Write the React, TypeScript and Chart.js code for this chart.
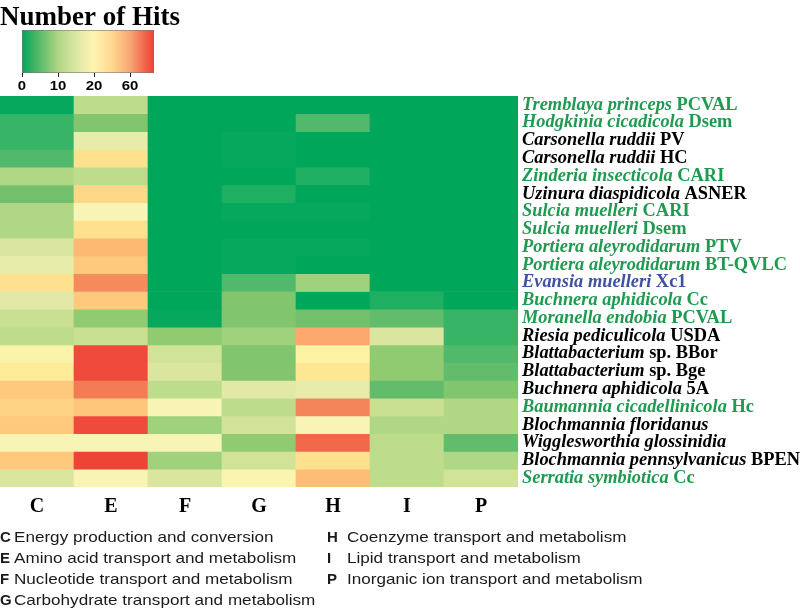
import React, { useEffect, useRef } from "react";
import { Chart, registerables } from "chart.js";

Chart.register(...registerables);

const categories = ["C", "E", "F", "G", "H", "I", "P"];

const speciesNames = [
  "Tremblaya princeps", "Hodgkinia cicadicola", "Carsonella ruddii", "Carsonella ruddii",
  "Zinderia insecticola", "Uzinura diaspidicola", "Sulcia muelleri", "Sulcia muelleri",
  "Portiera aleyrodidarum", "Portiera aleyrodidarum", "Evansia muelleri", "Buchnera aphidicola",
  "Moranella endobia", "Riesia pediculicola", "Blattabacterium", "Blattabacterium",
  "Buchnera aphidicola", "Baumannia cicadellinicola", "Blochmannia floridanus",
  "Wigglesworthia glossinidia", "Blochmannia pennsylvanicus", "Serratia symbiotica",
];
const strainNames = [
  "PCVAL", "Dsem", "PV", "HC", "CARI", "ASNER", "CARI", "Dsem", "PTV", "BT-QVLC", "Xc1", "Cc",
  "PCVAL", "USDA", "sp. BBor", "sp. Bge", "5A", "Hc", "", "", "BPEN", "Cc",
];
const labelColors = [
  "#1f9a50", "#1f9a50", "#000000", "#000000", "#1f9a50", "#000000", "#1f9a50", "#1f9a50",
  "#1f9a50", "#1f9a50", "#3f51a3", "#1f9a50", "#1f9a50", "#000000", "#000000", "#000000",
  "#000000", "#1f9a50", "#000000", "#000000", "#000000", "#1f9a50",
];

const hitsC = [1, 3, 3, 4, 10, 6, 10, 10, 14, 16, 27, 15, 12, 11, 21, 24, 37, 32, 37, 19, 37, 14];
const hitsE = [11, 7, 16, 27, 11, 30, 19, 27, 44, 37, 60, 37, 8, 12, 75, 75, 64, 38, 75, 19, 78, 19];
const hitsF = [0, 0, 0, 0, 0, 0, 0, 0, 0, 0, 0, 0, 1, 8, 13, 14, 11, 19, 9, 19, 9, 14];
const hitsG = [0, 0, 1, 1, 0, 2, 1, 0, 1, 1, 4, 7, 7, 9, 7, 7, 15, 11, 13, 8, 13, 20];
const hitsH = [0, 4, 0, 0, 2, 0, 1, 0, 1, 0, 9, 0, 6, 50, 22, 25, 16, 62, 19, 68, 27, 42];
const hitsI = [0, 0, 0, 0, 0, 0, 0, 0, 0, 0, 0, 2, 5, 14, 8, 8, 5, 12, 10, 11, 11, 11];
const hitsP = [0, 0, 0, 0, 0, 0, 0, 0, 0, 0, 0, 0, 3, 3, 4, 5, 7, 10, 10, 5, 10, 13];

const legendTicks = ["0", "10", "20", "60"];
const cogLetters = ["C", "E", "F", "G", "H", "I", "P"];
const cogDescriptions = [
  "Energy production and conversion",
  "Amino acid transport and metabolism",
  "Nucleotide transport and metabolism",
  "Carbohydrate transport and metabolism",
  "Coenzyme transport and metabolism",
  "Lipid transport and metabolism",
  "Inorganic ion transport and metabolism",
];

const colorStops: [number, string][] = [
  [0, "#00a65a"], [1, "#06a85d"], [2, "#1eaf62"], [4, "#52b86b"], [6, "#72c06b"],
  [8, "#90cb72"], [10, "#b0d785"], [12, "#c9e093"], [15, "#e2e9a6"], [19, "#f7f4b6"],
  [22, "#fef3a5"], [25, "#fee793"], [30, "#fed888"], [37, "#fec87d"], [44, "#fdb872"],
  [50, "#fca86c"], [62, "#f4845a"], [68, "#f0694b"], [75, "#ef4a3b"], [80, "#ee4036"],
];

function hexToRgb(h: string) {
  return [parseInt(h.slice(1, 3), 16), parseInt(h.slice(3, 5), 16), parseInt(h.slice(5, 7), 16)];
}
function colorFor(v: number) {
  for (let i = 0; i < colorStops.length - 1; i++) {
    const [v0, c0] = colorStops[i];
    const [v1, c1] = colorStops[i + 1];
    if (v <= v1) {
      const t = Math.max(0, (v - v0) / (v1 - v0));
      const a = hexToRgb(c0), b = hexToRgb(c1);
      const m = a.map((x, k) => Math.round(x + (b[k] - x) * t));
      return `rgb(${m[0]},${m[1]},${m[2]})`;
    }
  }
  return colorStops[colorStops.length - 1][1];
}

const columns = [hitsC, hitsE, hitsF, hitsG, hitsH, hitsI, hitsP];

function drawScaled(ctx: CanvasRenderingContext2D, text: string, x: number, y: number, font: string, sx: number) {
  ctx.save();
  ctx.translate(x, y);
  ctx.scale(sx, 1);
  ctx.font = font;
  ctx.fillText(text, 0, 0);
  ctx.restore();
}

const overlayPlugin = {
  id: "overlay",
  afterDraw(chart: any) {
    const ctx = chart.ctx as CanvasRenderingContext2D;
    const yScale = chart.scales.y;
    const area = chart.chartArea;
    ctx.save();
    // title
    ctx.fillStyle = "#000";
    ctx.font = 'bold 27px "Liberation Serif"';
    ctx.textBaseline = "alphabetic";
    ctx.textAlign = "left";
    ctx.fillText("Number of Hits", 0, 25);
    // colour bar
    const bx = 22, by = 30, bw = 132, bh = 43;
    const g = ctx.createLinearGradient(bx, 0, bx + bw, 0);
    g.addColorStop(0, "#00a65a");
    g.addColorStop(0.12, "#4fb867");
    g.addColorStop(0.27, "#afd583");
    g.addColorStop(0.4, "#d8e6a3");
    g.addColorStop(0.545, "#fff5b0");
    g.addColorStop(0.68, "#fed890");
    g.addColorStop(0.82, "#f7a674");
    g.addColorStop(0.95, "#f05a44");
    g.addColorStop(1, "#ee4036");
    ctx.fillStyle = g;
    ctx.fillRect(bx, by, bw, bh);
    ctx.strokeStyle = "rgba(120,120,120,0.6)";
    ctx.lineWidth = 1;
    ctx.strokeRect(bx + 0.5, by + 0.5, bw - 1, bh - 1);
    ctx.strokeStyle = "#222";
    ctx.beginPath();
    legendTicks.forEach((t, i) => {
      const x = bx + i * 36 + 0.5;
      ctx.moveTo(x, by + bh);
      ctx.lineTo(x, by + bh + 4);
    });
    ctx.stroke();
    ctx.fillStyle = "#000";
    ctx.textAlign = "center";
    ctx.textBaseline = "middle";
    legendTicks.forEach((t, i) => drawScaled(ctx, t, bx + i * 36, 86, 'bold 13px "Liberation Sans"', 1.15));
    // species labels
    ctx.textAlign = "left";
    ctx.textBaseline = "middle";
    speciesNames.forEach((name, r) => {
      const y = yScale.getPixelForValue(r + 0.5);
      let x = area.right + 4;
      ctx.fillStyle = labelColors[r];
      ctx.font = 'italic bold 18.4px "Liberation Serif"';
      ctx.fillText(name, x, y);
      x += ctx.measureText(name + " ").width;
      if (strainNames[r]) {
        ctx.font = 'bold 18.4px "Liberation Serif"';
        ctx.fillText(strainNames[r], x, y);
      }
    });
    // COG legend
    ctx.fillStyle = "#1a1a1a";
    ctx.textBaseline = "middle";
    ctx.textAlign = "left";
    const rowsY = [538, 559, 580, 601];
    cogLetters.forEach((letter, i) => {
      const col = i < 4 ? 0 : 1;
      const row = i < 4 ? i : i - 4;
      const lx = col === 0 ? 0 : 327;
      const dx = col === 0 ? 14 : 347;
      const y = rowsY[row];
      drawScaled(ctx, letter, lx, y, 'bold 15px "Liberation Sans"', 1);
      drawScaled(ctx, cogDescriptions[i], dx, y, '15px "Liberation Sans"', 1.14);
    });
    ctx.restore();
  },
};

export default function App() {
  const ref = useRef<HTMLCanvasElement>(null);
  useEffect(() => {
    if (!ref.current) return;
    const datasets = speciesNames.map((name, r) => ({
      label: name + " " + strainNames[r],
      data: categories.map(() => [r, r + 1]),
      backgroundColor: categories.map((_, c) => colorFor(columns[c][r])),
      borderWidth: 0,
      grouped: false,
      barPercentage: 1,
      categoryPercentage: 1,
    }));
    const chart = new Chart(ref.current, {
      type: "bar",
      data: { labels: categories, datasets: datasets as any },
      options: {
        animation: false,
        responsive: false,
        devicePixelRatio: 1,
        layout: { padding: { left: 0, right: 282, top: 96, bottom: 83 } },
        plugins: { legend: { display: false }, tooltip: { enabled: false }, title: { display: false } },
        scales: {
          x: {
            grid: { display: false },
            border: { display: false },
            ticks: { color: "#000", font: { family: "Liberation Serif", size: 20, weight: "bold" }, padding: 0 },
            afterFit: (s: any) => { s.height = 40; },
          },
          y: { type: "linear", min: 0, max: 22, reverse: true, display: false },
        },
      },
      plugins: [overlayPlugin],
    });
    return () => chart.destroy();
  }, []);
  return (
    <div style={{ position: "absolute", left: 0, top: 0, width: 800, height: 610, background: "#fff" }}>
      <canvas ref={ref} width={800} height={610} style={{ display: "block" }} />
    </div>
  );
}
